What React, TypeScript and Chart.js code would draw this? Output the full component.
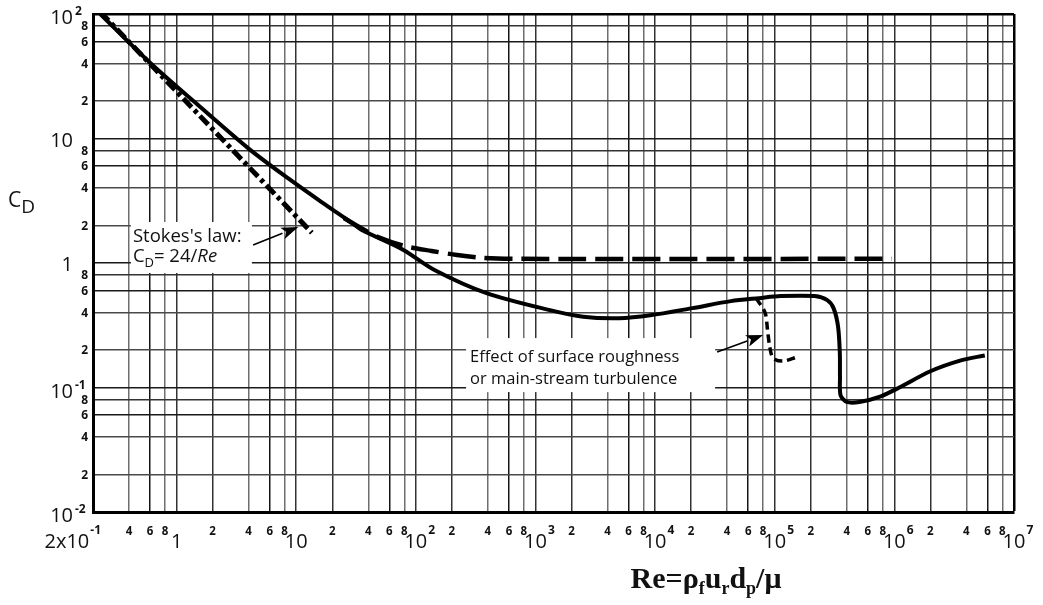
import React, { useEffect, useRef } from 'react';
import { Chart, registerables } from 'chart.js';

Chart.register(...registerables);

// ---- axis ticks ----
const xTickValues = [0.2, 0.4, 0.6, 0.8, 1, 2, 4, 6, 8, 10, 20, 40, 60, 80, 100, 200, 400, 600, 800, 1e3, 2e3, 4e3, 6e3, 8e3, 1e4, 2e4, 4e4, 6e4, 8e4, 1e5, 2e5, 4e5, 6e5, 8e5, 1e6, 2e6, 4e6, 6e6, 8e6, 1e7];
const xTickLabels = ['2x10^-1', '4', '6', '8', '1', '2', '4', '6', '8', '10', '2', '4', '6', '8', '10^2', '2', '4', '6', '8', '10^3', '2', '4', '6', '8', '10^4', '2', '4', '6', '8', '10^5', '2', '4', '6', '8', '10^6', '2', '4', '6', '8', '10^7'];
const yTickValues = [0.01, 0.02, 0.04, 0.06, 0.08, 0.1, 0.2, 0.4, 0.6, 0.8, 1, 2, 4, 6, 8, 10, 20, 40, 60, 80, 100];
const yTickLabels = ['10^-2', '2', '4', '6', '8', '10^-1', '2', '4', '6', '8', '1', '2', '4', '6', '8', '10', '2', '4', '6', '8', '10^2'];

// ---- standard drag curve (solid) ----
const dragRe = [0.23, 0.59, 1.47, 4.0, 8.7, 16.4, 29, 35, 78, 143, 390, 1320, 2500, 5000, 9100, 20500, 43000, 74000, 112000, 216000, 275000, 310000, 338000, 350000, 351000, 355000, 400000, 510000, 770000, 1100000, 2000000, 3600000, 5700000];
const dragCd = [100, 41.2, 19.0, 8.3, 4.73, 3.07, 2.11, 1.85, 1.28, 0.88, 0.573, 0.418, 0.37, 0.36, 0.38, 0.434, 0.494, 0.522, 0.542, 0.542, 0.503, 0.434, 0.31, 0.188, 0.12, 0.0867, 0.0765, 0.0765, 0.085, 0.1, 0.135, 0.165, 0.181];

// ---- long-dashed curve ----
const dashRe = [25, 35, 49.5, 80, 135, 221, 370, 720, 950000];
const dashCd = [2.3, 1.9, 1.6, 1.37, 1.25, 1.16, 1.1, 1.08, 1.08];

// ---- Stokes's law (dash-dot) ----
const stokesRe = [0.23, 13.5];
const stokesCd = [104, 1.75];

// ---- surface roughness branch (short dashes) ----
const roughRe = [70000, 83000, 87000, 91000, 97000, 117000, 155000];
const roughCd = [0.52, 0.40, 0.29, 0.21, 0.172, 0.163, 0.176];

// ---- annotation anchors (data coordinates) ----
const stokesNote = { re: 0.431, cd: 1.475 };
const stokesArrow = { re1: 4.36, cd1: 1.395, re2: 10.4, cd2: 1.945 };
const effectNote = { re: 284, cd: 0.16 };
const effectArrow = { re1: 33000, cd1: 0.193, re2: 80000, cd2: 0.264 };

const SANS = '"Open Sans", "DejaVu Sans", sans-serif';
const SERIF = '"Liberation Serif", "DejaVu Serif", serif';

const pts = (xs: number[], ys: number[]) => xs.map((x, i) => ({ x, y: ys[i] }));

const mantissa = (v: number) => {
  const e = Math.floor(Math.log10(v) + 1e-9);
  return Math.round(v / Math.pow(10, e));
};

function drawArrow(ctx: CanvasRenderingContext2D, x1: number, y1: number, x2: number, y2: number) {
  const ang = Math.atan2(y2 - y1, x2 - x1);
  const len = 17;
  const half = 6;
  const bx = x2 - len * Math.cos(ang);
  const by = y2 - len * Math.sin(ang);
  ctx.save();
  ctx.strokeStyle = '#000';
  ctx.fillStyle = '#000';
  ctx.lineWidth = 1.6;
  ctx.beginPath();
  ctx.moveTo(x1, y1);
  ctx.lineTo(bx, by);
  ctx.stroke();
  ctx.beginPath();
  ctx.moveTo(x2, y2);
  ctx.lineTo(bx + half * Math.sin(ang), by - half * Math.cos(ang));
  ctx.lineTo(bx + 4 * Math.cos(ang), by + 4 * Math.sin(ang));
  ctx.lineTo(bx - half * Math.sin(ang), by + half * Math.cos(ang));
  ctx.closePath();
  ctx.fill();
  ctx.restore();
}

const annotationPlugin = {
  id: 'annotations',
  beforeDatasetsDraw(chart: any) {
    const ctx: CanvasRenderingContext2D = chart.ctx;
    const xs = chart.scales.x;
    const ys = chart.scales.y;
    ctx.save();
    // Stokes's law note
    const sx = xs.getPixelForValue(stokesNote.re);
    const sy = ys.getPixelForValue(stokesNote.cd);
    ctx.fillStyle = '#fff';
    ctx.fillRect(sx - 2, sy - 20, 121, 51);
    ctx.fillStyle = '#111';
    ctx.textBaseline = 'alphabetic';
    ctx.textAlign = 'left';
    ctx.font = `500 18.5px ${SANS}`;
    ctx.fillText("Stokes's law:", sx, sy);
    let cx = sx;
    const l2 = sy + 20;
    ctx.fillText('C', cx, l2);
    cx += ctx.measureText('C').width;
    ctx.font = `500 13px ${SANS}`;
    ctx.fillText('D', cx, l2 + 5);
    cx += ctx.measureText('D').width;
    ctx.font = `500 18.5px ${SANS}`;
    ctx.fillText('= 24/', cx, l2);
    cx += ctx.measureText('= 24/').width;
    ctx.font = `italic 500 18.5px ${SANS}`;
    ctx.fillText('Re', cx, l2);

    // Effect note
    const ex = xs.getPixelForValue(effectNote.re);
    const ey = ys.getPixelForValue(effectNote.cd);
    ctx.fillStyle = '#fff';
    ctx.fillRect(ex - 4, ey - 24, 249, 54);
    ctx.fillStyle = '#111';
    ctx.font = `500 16.5px ${SANS}`;
    ctx.fillText('Effect of surface roughness', ex, ey);
    ctx.fillText('or main-stream turbulence', ex, ey + 22);
    ctx.restore();
  },
  afterDatasetsDraw(chart: any) {
    const ctx: CanvasRenderingContext2D = chart.ctx;
    const xs = chart.scales.x;
    const ys = chart.scales.y;
    drawArrow(ctx, xs.getPixelForValue(stokesArrow.re1), ys.getPixelForValue(stokesArrow.cd1), xs.getPixelForValue(stokesArrow.re2), ys.getPixelForValue(stokesArrow.cd2));
    drawArrow(ctx, xs.getPixelForValue(effectArrow.re1), ys.getPixelForValue(effectArrow.cd1), xs.getPixelForValue(effectArrow.re2), ys.getPixelForValue(effectArrow.cd2));
  },
};

const labelPlugin = {
  id: 'axisLabels',
  afterDraw(chart: any) {
    const ctx: CanvasRenderingContext2D = chart.ctx;
    const xs = chart.scales.x;
    const ys = chart.scales.y;
    ctx.save();
    ctx.fillStyle = '#111';
    ctx.textBaseline = 'alphabetic';
    ctx.textAlign = 'left';

    // x tick labels
    xTickValues.forEach((v, i) => {
      const label = xTickLabels[i];
      const px = xs.getPixelForValue(v);
      const [main, sup] = label.split('^');
      const major = !/^[2468]$/.test(label);
      if (!major) {
        ctx.font = `bold 11.5px ${SANS}`;
        const w = ctx.measureText(main).width;
        ctx.fillText(main, px - w / 2, 535);
        return;
      }
      ctx.font = `500 20px ${SANS}`;
      const mw = ctx.measureText(main).width;
      ctx.font = `bold 12px ${SANS}`;
      const sw = sup ? ctx.measureText(sup).width + 1 : 0;
      let start = px - mw / 2;
      if (i === 0) start = px + 8 - (mw + sw);
      ctx.font = `500 20px ${SANS}`;
      ctx.fillText(main, start, 548);
      if (sup) {
        ctx.font = `bold 12px ${SANS}`;
        ctx.fillText(sup, start + mw + 1, 534);
      }
    });

    // y tick labels
    yTickValues.forEach((v, i) => {
      const label = yTickLabels[i];
      const py = ys.getPixelForValue(v);
      const [main, sup] = label.split('^');
      const major = !/^[2468]$/.test(label);
      if (!major) {
        ctx.font = `bold 12px ${SANS}`;
        const w = ctx.measureText(main).width;
        ctx.fillText(main, 88 - w, py + 4.3);
        return;
      }
      ctx.font = `500 20px ${SANS}`;
      const mw = ctx.measureText(main).width;
      ctx.fillText(main, 73 - mw, py + 7 + (sup ? 3 : 1));
      if (sup) {
        ctx.font = `bold 12px ${SANS}`;
        ctx.fillText(sup, 75, py + 1);
      }
    });

    // y title C_D
    ctx.font = `500 21px ${SANS}`;
    ctx.fillText('C', 8, 207);
    const cw = ctx.measureText('C').width;
    ctx.font = `500 19px ${SANS}`;
    ctx.fillText('D', 8 + cw, 213);

    // x title Re = rho_f u_r d_p / mu
    const parts: [string, boolean][] = [['Re=ρ', false], ['f', true], ['u', false], ['r', true], ['d', false], ['p', true], ['/μ', false]];
    const mainF = `bold 30px ${SERIF}`;
    const subF = `bold 18px ${SERIF}`;
    let total = 0;
    parts.forEach(([t, s]) => {
      ctx.font = s ? subF : mainF;
      total += ctx.measureText(t).width;
    });
    let tx = 706 - total / 2;
    parts.forEach(([t, s]) => {
      ctx.font = s ? subF : mainF;
      ctx.fillText(t, tx, s ? 594 : 588);
      tx += ctx.measureText(t).width;
    });
    ctx.restore();
  },
};

export default function App() {
  const ref = useRef<HTMLCanvasElement>(null);

  useEffect(() => {
    const canvas = ref.current;
    if (!canvas) return;

    const xGridColor = (c: any) => {
      const v = c.tick && c.tick.value;
      if (v == null) return '#666';
      if (v >= 1e7 * 0.999) return '#000';
      const m = mantissa(v);
      if (m === 6) return '#151515';
      if (m === 1 || m === 2) return '#333';
      return '#6e6e6e';
    };
    const xGridWidth = (c: any) => {
      const v = c.tick && c.tick.value;
      if (v != null && v >= 1e7 * 0.999) return 2.5;
      return 1.5;
    };
    const yGridColor = (c: any) => {
      const v = c.tick && c.tick.value;
      if (v == null) return '#444';
      if (v >= 100 * 0.999) return '#000';
      const m = mantissa(v);
      if (m === 1 || m === 6) return '#1a1a1a';
      if (m === 8) return '#333';
      return '#4a4a4a';
    };
    const yGridWidth = (c: any) => {
      const v = c.tick && c.tick.value;
      if (v != null && v >= 100 * 0.999) return 2.5;
      return 1.5;
    };

    const chart = new Chart(canvas, {
      type: 'line',
      data: {
        datasets: [
          {
            label: 'Standard drag curve',
            data: pts(dragRe, dragCd),
            borderColor: '#000',
            borderWidth: 4,
            tension: 0.3,
            pointRadius: 0,
            fill: false,
          },
          {
            label: 'Long dashed',
            data: pts(dashRe, dashCd),
            borderColor: '#000',
            borderWidth: 4.5,
            borderDash: [28, 9],
            tension: 0.3,
            pointRadius: 0,
            fill: false,
          },
          {
            label: "Stokes's law",
            data: pts(stokesRe, stokesCd),
            borderColor: '#000',
            borderWidth: 5,
            borderDash: [12, 4, 4, 4],
            tension: 0,
            pointRadius: 0,
            fill: false,
          },
          {
            label: 'Surface roughness',
            data: pts(roughRe, roughCd),
            borderColor: '#000',
            borderWidth: 3.5,
            borderDash: [8, 5],
            tension: 0.3,
            pointRadius: 0,
            fill: false,
          },
        ],
      },
      options: {
        animation: false,
        responsive: false,
        devicePixelRatio: 1,
        layout: { padding: { left: 0, top: 14, right: 29, bottom: 0 } },
        plugins: {
          legend: { display: false },
          tooltip: { enabled: false },
        },
        scales: {
          x: {
            type: 'logarithmic',
            min: 0.2,
            max: 1e7,
            afterBuildTicks: (scale: any) => {
              scale.ticks = xTickValues.map((value) => ({ value }));
            },
            afterFit: (scale: any) => {
              scale.height = 93;
            },
            ticks: { display: false },
            grid: { color: xGridColor, lineWidth: xGridWidth, drawTicks: false },
            border: { display: true, color: '#000', width: 3 },
          },
          y: {
            type: 'logarithmic',
            min: 0.01,
            max: 100,
            afterBuildTicks: (scale: any) => {
              scale.ticks = yTickValues.map((value) => ({ value }));
            },
            afterFit: (scale: any) => {
              scale.width = 93;
            },
            ticks: { display: false },
            grid: { color: yGridColor, lineWidth: yGridWidth, drawTicks: false },
            border: { display: true, color: '#000', width: 3 },
          },
        },
      } as any,
      plugins: [annotationPlugin, labelPlugin],
    });

    return () => chart.destroy();
  }, []);

  return (
    <div style={{ position: 'absolute', left: 0, top: 0, width: 1043, height: 605, background: '#fff' }}>
      <canvas ref={ref} width={1043} height={605} style={{ display: 'block' }} />
    </div>
  );
}
